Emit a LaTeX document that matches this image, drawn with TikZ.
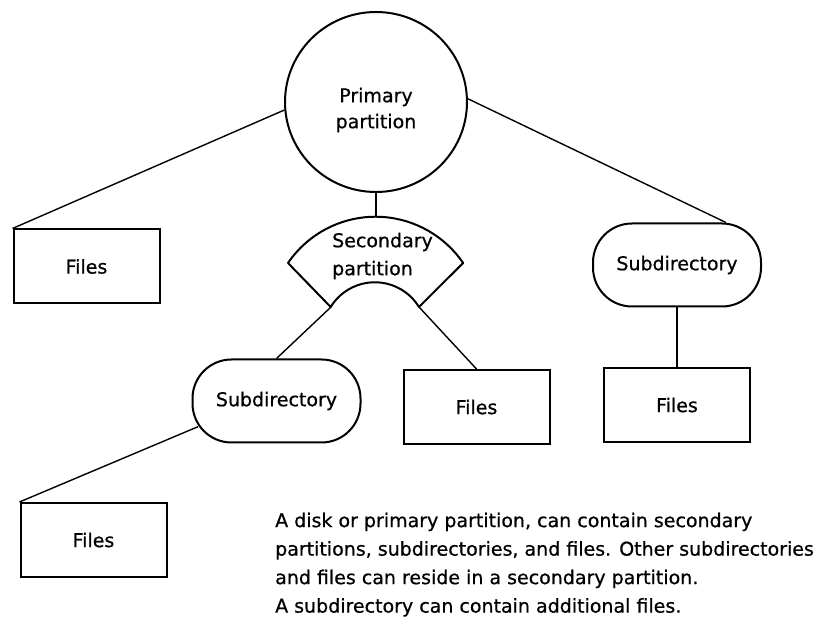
\documentclass[tikz,border=0pt]{standalone}
\usepackage{fontspec}
\setmainfont{DejaVu Sans}[FakeBold=0.7]
\usetikzlibrary{shapes.geometric}
\begin{document}
\begin{tikzpicture}[x=1pt,y=1pt,
  shapeline/.style={draw, line width=2pt},
  filebox/.style={shapeline, minimum width=146pt, minimum height=74pt, inner sep=0pt, font=\fontsize{19}{26}\selectfont},
  subdir/.style={shapeline, rounded corners=39pt, minimum width=168pt, minimum height=83pt, inner sep=0pt, font=\fontsize{19}{26}\selectfont},
  conn/.style={line width=1.4pt},
  ]
\useasboundingbox (0,0) rectangle (815,618);
% primary partition
\node[ellipse, shapeline, minimum width=182pt, minimum height=180pt, inner sep=0pt] (primary) at (376,516) {};
\node[align=center, inner sep=0pt, font=\fontsize{19}{26}\selectfont] (ptext) at (376,508) {Primary\\partition};
% secondary partition (fan shape)
\coordinate (sTL) at (288,355);
\coordinate (sTop) at (376,401);
\coordinate (sBR) at (419,311);
\coordinate (sBL) at (331,311);
\draw[line width=2pt, line join=round] (sTL) arc[start angle=145.7, end angle=34.3, radius=106] -- (sBR) arc[start angle=31.5, end angle=148.5, radius=51.8] -- cycle;
\node[align=left, anchor=west, inner sep=0pt, font=\fontsize{19}{28}\selectfont] (stext) at (332,362) {Secondary\\partition};
% boxes
\node[filebox] (files1) at (86.5,351.5) {Files};
\node[subdir] (sub1) at (677,353) {Subdirectory};
\node[filebox] (files3) at (677,213) {Files};
\node[filebox] (files2) at (476.5,211) {Files};
\node[subdir] (sub2) at (276.5,217) {Subdirectory};
\node[filebox] (files4) at (93.5,78) {Files};
% connectors
\draw[conn] (primary.185) -- (files1.north west);
\draw[conn] (primary.2) -- (sub1.41);
\draw[conn] (primary.south) -- (sTop);
\draw[conn] (sBL) -- (sub2.north);
\draw[conn] (sBR) -- (files2.north);
\draw[conn] (sub1.south) -- (files3.north);
\draw[conn] ([shift={(6.5,16.8)}]sub2.south west) -- (files4.north west);
% description
\node[anchor=north west, align=left, inner sep=0pt, font=\fontsize{19}{28.5}\selectfont] (desc) at (275,105.5) {A disk or primary partition, can contain secondary\\partitions, subdirectories, and files. Other subdirectories\\and files can reside in a secondary partition.\\A subdirectory can contain additional files.};
\end{tikzpicture}
\end{document}
